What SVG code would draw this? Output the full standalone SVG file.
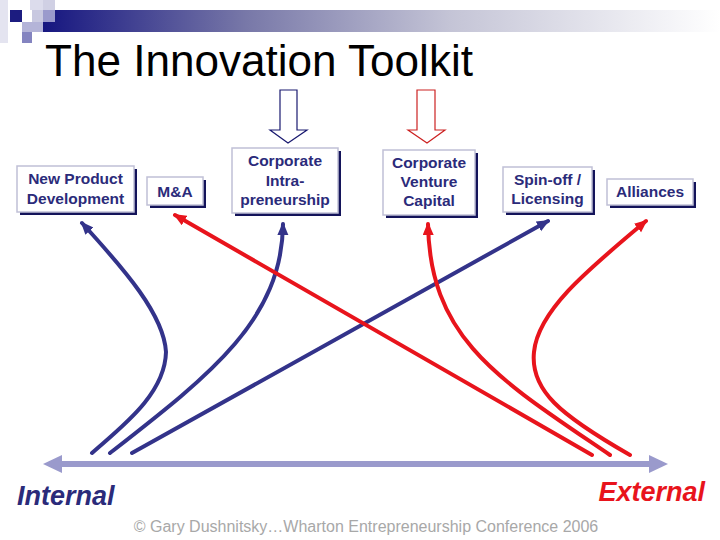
<svg xmlns="http://www.w3.org/2000/svg" width="720" height="540" viewBox="0 0 720 540">
<defs>
<linearGradient id="bar" x1="0" y1="0" x2="1" y2="0">
<stop offset="0" stop-color="#161680"/>
<stop offset="0.3" stop-color="#7878a8"/>
<stop offset="0.6" stop-color="#c4c4d6"/>
<stop offset="1" stop-color="#ffffff"/>
</linearGradient>
<marker id="hn" markerUnits="userSpaceOnUse" markerWidth="14" markerHeight="12" refX="11" refY="5.5" orient="auto">
<path d="M0,0 L13,5.5 L0,11 z" fill="#33338a"/>
</marker>
<marker id="hr" markerUnits="userSpaceOnUse" markerWidth="14" markerHeight="12" refX="11" refY="5.5" orient="auto">
<path d="M0,0 L13,5.5 L0,11 z" fill="#e8141c"/>
</marker>
<style>
.box{fill:#ffffff;stroke:#c0c0d6;stroke-width:1.5}
.sh{fill:#14145a}
.bt{font-family:"Liberation Sans",Arial,sans-serif;font-size:15.5px;font-weight:bold;fill:#2b2b7a;text-anchor:middle}
.cn{fill:none;stroke:#33338a;stroke-width:4;stroke-linecap:round}
.cr{fill:none;stroke:#e8141c;stroke-width:4;stroke-linecap:round}
</style>
</defs>
<rect width="720" height="540" fill="#ffffff"/>
<g id="decor">
<rect x="0" y="0" width="8" height="43" fill="#e4e4f0"/>
<rect x="30" y="0" width="13" height="10" fill="#dcdcec"/>
<rect x="43" y="0" width="12" height="10" fill="#d0d0e4"/>
<rect x="43" y="10" width="677" height="22" fill="url(#bar)"/>
<rect x="10" y="10" width="12" height="12" fill="#1c1c80"/>
<rect x="32" y="10" width="11" height="12" fill="#c8c8e0"/>
<rect x="43" y="10" width="12" height="12" fill="#9a9acc"/>
<rect x="22" y="22" width="21" height="10" fill="#b4b4d8"/>
<rect x="22" y="32" width="10" height="11" fill="#8484c0"/>
</g>
<text id="title" x="45" y="76" font-family="'Liberation Sans',Arial,sans-serif" font-size="44" fill="#000000" textLength="428" lengthAdjust="spacingAndGlyphs">The Innovation Toolkit</text>
<g id="hollow-arrows">
<polygon points="280,90 297,90 297,130 307,130 288,143 270,130 280,130" fill="#ffffff" stroke="#1a1a70" stroke-width="1.2"/>
<polygon points="417,90 435,90 435,130 445,130 427,143 408,130 417,130" fill="#ffffff" stroke="#cc2222" stroke-width="1.2"/>
</g>
<g id="npd">
<rect class="sh" x="20" y="169" width="117" height="46"/>
<rect class="box" x="17" y="166" width="117" height="46"/>
<text class="bt" x="75.5" y="184">New Product</text>
<text class="bt" x="75.5" y="203.5">Development</text>
</g>
<g id="ma">
<rect class="sh" x="150" y="180" width="56" height="28"/>
<rect class="box" x="147" y="177" width="56" height="28"/>
<text class="bt" x="175" y="197">M&amp;A</text>
</g>
<g id="ci">
<rect class="sh" x="235" y="151" width="106" height="65"/>
<rect class="box" x="232" y="148" width="106" height="65"/>
<text class="bt" x="285" y="166">Corporate</text>
<text class="bt" x="285" y="185.5">Intra-</text>
<text class="bt" x="285" y="204.5">preneurship</text>
</g>
<g id="cvc">
<rect class="sh" x="386" y="153" width="92" height="65"/>
<rect class="box" x="383" y="150" width="92" height="65"/>
<text class="bt" x="429" y="168">Corporate</text>
<text class="bt" x="429" y="187">Venture</text>
<text class="bt" x="429" y="206">Capital</text>
</g>
<g id="spin">
<rect class="sh" x="506" y="170" width="89" height="45"/>
<rect class="box" x="503" y="167" width="89" height="45"/>
<text class="bt" x="547.5" y="185">Spin-off /</text>
<text class="bt" x="547.5" y="204">Licensing</text>
</g>
<g id="alliances">
<rect class="sh" x="610" y="182" width="86" height="26"/>
<rect class="box" x="607" y="179" width="86" height="26"/>
<text class="bt" x="650" y="197">Alliances</text>
</g>
<g id="connectors">
<path class="cn" d="M92,453 C120,428 165,395 166,352 C164,315 125,270 82,223" marker-end="url(#hn)"/>
<path class="cn" d="M110,453 C210,375 282,320 283,224" marker-end="url(#hn)"/>
<path class="cn" d="M132,453 L548,221" marker-end="url(#hn)"/>
<path class="cr" d="M592,455 L175,215" marker-end="url(#hr)"/>
<path class="cr" d="M610,455 C500,380 430,340 428,224" marker-end="url(#hr)"/>
<path class="cr" d="M630,455 C560,415 530,390 534,352 C538,310 590,268 646,221" marker-end="url(#hr)"/>
</g>
<g id="axis">
<rect x="60" y="461" width="592" height="6" fill="#9a9acc"/>
<polygon points="43,464 62,455 62,473" fill="#9a9acc"/>
<polygon points="668,464 649,455 649,473" fill="#9a9acc"/>
</g>
<text id="internal" x="17" y="505" font-family="'Liberation Sans',Arial,sans-serif" font-size="27" font-weight="bold" font-style="italic" fill="#2b2b7a">Internal</text>
<text id="external" x="705" y="501" text-anchor="end" font-family="'Liberation Sans',Arial,sans-serif" font-size="27" font-weight="bold" font-style="italic" fill="#e8141c">External</text>
<text id="credit" x="366" y="532" text-anchor="middle" font-family="'Liberation Sans',Arial,sans-serif" font-size="16" fill="#a8a8a8">© Gary Dushnitsky…Wharton Entrepreneurship Conference 2006</text>
</svg>
